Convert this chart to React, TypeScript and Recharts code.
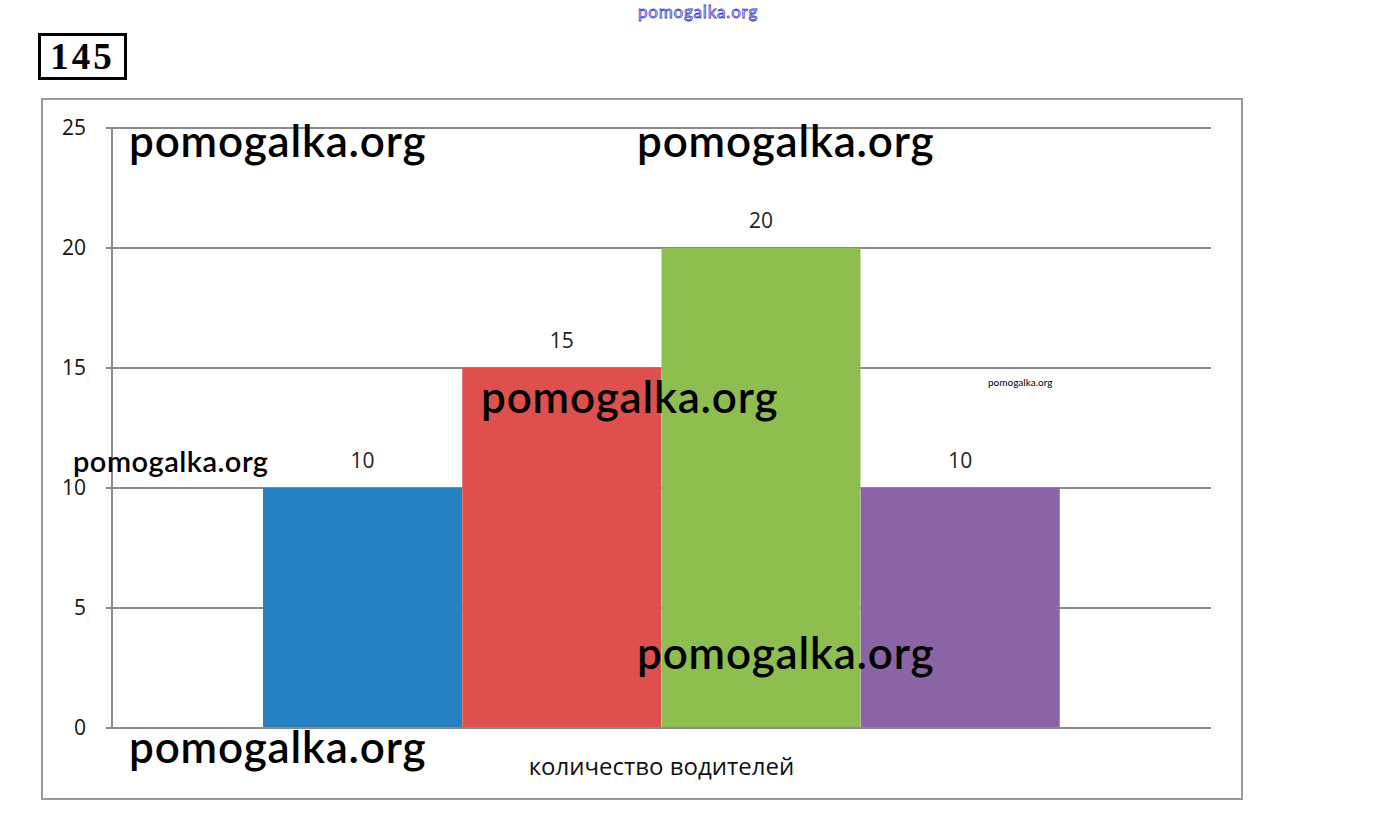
import React from "react";
import { BarChart, Bar, XAxis, YAxis, CartesianGrid, Cell, LabelList, Label } from "recharts";

const categories = ["1", "2", "3", "4"];
const positions = [1, 2, 3, 4];
const values = [10, 15, 20, 10];
const colors = ["#2581c1", "#dd504d", "#8fbe50", "#8a64a5"];
const yTicks = [0, 5, 10, 15, 20, 25];
const xDomain = [-0.258, 5.258];
const xLabel = "количество водителей";
const title = "145";
const watermark = "pomogalka.org";

const data = categories.map((c, i) => ({ name: c, x: positions[i], value: values[i] }));

const wmBig = [
  { left: 129, top: 115 },
  { left: 637, top: 115 },
  { left: 481, top: 371 },
  { left: 637, top: 627 },
  { left: 129, top: 721 },
];

export default function App() {
  return (
    <div style={{ position: "absolute", left: 0, top: 0, width: 1392, height: 824, background: "#fff", overflow: "hidden" }}>
      <div
        style={{
          position: "absolute",
          left: 41,
          top: 98,
          width: 1198,
          height: 698,
          border: "2px solid #9a9a9a",
        }}
      />
      <div style={{ position: "absolute", left: 0, top: 0 }}>
        <BarChart
          width={1392}
          height={824}
          data={data}
          margin={{ top: 128, right: 181, bottom: 36, left: 12 }}
          barCategoryGap={0}
          barGap={0}
        >
          <CartesianGrid vertical={false} stroke="#8a8a8a" strokeWidth={2} />
          <XAxis
            dataKey="x"
            type="number"
            domain={xDomain}
            ticks={xDomain}
            allowDataOverflow
            tick={false}
            tickSize={8}
            height={60}
            axisLine={{ stroke: "#8a8a8a", strokeWidth: 2 }}
            tickLine={{ stroke: "#8a8a8a", strokeWidth: 2 }}
          >
            <Label
              value={xLabel}
              position="insideBottom"
              offset={13}
              style={{ fontFamily: "'Open Sans', sans-serif", fontSize: 24, fill: "#111" }}
            />
          </XAxis>
          <YAxis
            type="number"
            domain={[0, 25]}
            ticks={yTicks}
            width={100}
            tickSize={6}
            tickMargin={20}
            axisLine={{ stroke: "#8a8a8a", strokeWidth: 2 }}
            tickLine={{ stroke: "#8a8a8a", strokeWidth: 2 }}
            tick={{ fontFamily: "'Open Sans', sans-serif", fontSize: 21, fill: "#111" }}
          />
          <Bar dataKey="value" isAnimationActive={false}>
            {data.map((d, i) => (
              <Cell key={d.name} fill={colors[i]} />
            ))}
            <LabelList
              dataKey="value"
              position="top"
              offset={20}
              style={{ fontFamily: "'Open Sans', sans-serif", fontSize: 21, fill: "#222" }}
            />
          </Bar>
        </BarChart>
      </div>
      <div
        style={{
          position: "absolute",
          left: 38,
          top: 33,
          width: 83,
          height: 41,
          border: "3px solid #000",
          fontFamily: "'Liberation Serif', serif",
          fontWeight: 700,
          fontSize: 37,
          lineHeight: "41px",
          textAlign: "center",
          color: "#000",
          letterSpacing: 3,
        }}
      >
        {title}
      </div>
      <div
        style={{
          position: "absolute",
          left: 638,
          top: 1,
          fontFamily: "Lato, sans-serif",
          fontSize: 17,
          letterSpacing: 0.8,
          color: "#fff",
          WebkitTextStroke: "0.8px #3a3ad0",
          whiteSpace: "nowrap",
        }}
      >
        {watermark}
      </div>
      {wmBig.map((p, i) => (
        <div
          key={i}
          style={{
            position: "absolute",
            left: p.left,
            top: p.top,
            fontFamily: "Lato, sans-serif",
            fontWeight: 600,
            fontSize: 44,
            letterSpacing: 0.8,
            lineHeight: "50px",
            color: "#000",
            whiteSpace: "nowrap",
          }}
        >
          {watermark}
        </div>
      ))}
      <div
        style={{
          position: "absolute",
          left: 73,
          top: 444,
          fontFamily: "Lato, sans-serif",
          fontWeight: 600,
          fontSize: 29,
          letterSpacing: 0.5,
          lineHeight: "34px",
          color: "#000",
          whiteSpace: "nowrap",
        }}
      >
        {watermark}
      </div>
      <div
        style={{
          position: "absolute",
          left: 988,
          top: 375,
          fontFamily: "Lato, sans-serif",
          fontSize: 10,
          lineHeight: "14px",
          color: "#000",
          whiteSpace: "nowrap",
        }}
      >
        {watermark}
      </div>
    </div>
  );
}
